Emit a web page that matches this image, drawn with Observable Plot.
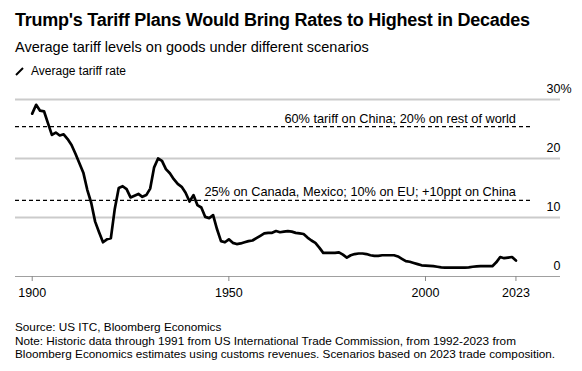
<!DOCTYPE html>
<html>
<head>
<meta charset="utf-8">
<script src="https://cdn.jsdelivr.net/npm/d3@7"></script>
<script src="https://cdn.jsdelivr.net/npm/@observablehq/plot@0.6"></script>
<style>
  html, body { margin: 0; padding: 0; background: #fff; }
  body { width: 582px; height: 371px; position: relative; font-family: "Liberation Sans", Arial, sans-serif; color: #000; overflow: hidden; }
  .abs { position: absolute; left: 15px; white-space: nowrap; }
  #title { top: 9px; font-size: 18px; font-weight: bold; letter-spacing: -0.25px; line-height: 22px; }
  #subtitle { top: 38px; font-size: 14.5px; line-height: 18px; }
  #legend { top: 63px; font-size: 12px; line-height: 16px; display: flex; align-items: center; }
  #legend svg { margin-right: 7px; }
  #chart { position: absolute; left: 0; top: 78px; }
  #footer { top: 320px; font-size: 11.75px; line-height: 13.5px; }
</style>
</head>
<body>
<div id="title" class="abs">Trump's Tariff Plans Would Bring Rates to Highest in Decades</div>
<div id="subtitle" class="abs">Average tariff levels on goods under different scenarios</div>
<div id="legend" class="abs"><svg width="9" height="9"><line x1="1" y1="8" x2="8" y2="1" stroke="#000" stroke-width="2"/></svg>Average tariff rate</div>
<div id="chart"></div>
<div id="footer" class="abs">Source: US ITC, Bloomberg Economics<br>Note: Historic data through 1991 from US International Trade Commission, from 1992-2023 from<br>Bloomberg Economics estimates using customs revenues. Scenarios based on 2023 trade composition.</div>
<script>
const years = [1900,1901,1902,1903,1904,1905,1906,1907,1908,1909,1910,1911,1912,1913,1914,1915,1916,1917,1918,1919,
1920,1921,1922,1923,1924,1925,1926,1927,1928,1929,1930,1931,1932,1933,1934,1935,1936,1937,1938,1939,
1940,1941,1942,1943,1944,1945,1946,1947,1948,1949,1950,1951,1952,1953,1954,1955,1956,1957,1958,1959,
1960,1961,1962,1963,1964,1965,1966,1967,1968,1969,1970,1971,1972,1973,1974,1975,1976,1977,1978,1979,
1980,1981,1982,1983,1984,1985,1986,1987,1988,1989,1990,1991,1992,1993,1994,1995,1996,1997,1998,1999,
2000,2001,2002,2003,2004,2005,2006,2007,2008,2009,2010,2011,2012,2013,2014,2015,2016,2017,2018,2019,
2020,2021,2022,2023];
const tariffRate = [27.6,29.1,28.1,28.0,26.0,24.0,24.4,23.9,24.1,23.3,22.3,20.8,19.2,17.6,14.7,12.5,9.3,7.5,5.8,6.3,
6.5,11.5,15.0,15.3,14.8,13.4,13.7,14.0,13.5,13.8,14.9,18.5,20.0,19.6,18.2,17.5,16.5,15.7,15.2,14.2,
12.7,13.8,12.1,11.7,10.1,9.9,10.4,8.0,6.0,5.8,6.3,5.7,5.5,5.6,5.8,6.0,6.1,6.5,6.9,7.3,
7.4,7.4,7.7,7.5,7.6,7.7,7.6,7.4,7.3,7.2,6.6,6.1,5.7,4.9,4.0,4.0,4.0,4.0,4.1,3.7,
3.2,3.6,3.8,3.9,3.9,3.8,3.6,3.5,3.5,3.6,3.6,3.6,3.6,3.4,3.0,2.6,2.5,2.3,2.1,1.9,
1.85,1.8,1.75,1.65,1.55,1.5,1.5,1.5,1.5,1.5,1.5,1.55,1.65,1.7,1.75,1.75,1.75,1.75,2.4,3.3,
3.1,3.2,3.3,2.7];
const scenarioLabels = ["60% tariff on China; 20% on rest of world", "25% on Canada, Mexico; 10% on EU; +10ppt on China"];
const scenarioValues = [25.4, 12.9];
const yTicks = [0, 10, 20, 30];
const xTicks = [1900, 1950, 2000, 2023];

const series = years.map((y, i) => ({year: y, value: tariffRate[i]}));
const scenarios = scenarioLabels.map((l, i) => ({label: l, value: scenarioValues[i]}));
const lastYear = years[years.length - 1];
const gridData = yTicks.filter(d => d > 0).map(v => ({value: v}));

const chart = Plot.plot({
  width: 582,
  height: 232,
  marginLeft: 15,
  marginRight: 22,
  marginTop: 21,
  marginBottom: 34,
  style: {fontFamily: "'Liberation Sans', Arial, sans-serif", fontSize: "12.5px", color: "#000", background: "#fff", overflow: "visible"},
  x: {domain: [1895.75, 2034.33]},
  y: {domain: [0, 30], axis: null},
  marks: [
    Plot.ruleY(gridData, {y: "value", stroke: "#cbcbcb", strokeOpacity: 1, strokeWidth: 2}),
    Plot.ruleY([0], {stroke: "#a0a0a0", strokeWidth: 1.2}),
    Plot.axisX({ticks: xTicks, tickFormat: d => String(d), tickSize: 5, tickPadding: 7, stroke: "#888", fill: "#000", fontSize: 12.5, label: null}),
    Plot.text(yTicks, {y: d => d, text: d => String(d), frameAnchor: "right", textAnchor: "end", dy: -11, fontSize: 12.5, fill: "#000"}),
    Plot.text([30], {y: d => d, text: () => "%", frameAnchor: "right", textAnchor: "start", dy: -11, fontSize: 12.5, fill: "#000"}),
    Plot.ruleY(scenarios, {y: "value", stroke: "#000", strokeWidth: 1.2, strokeDasharray: "4,3", insetRight: 29}),
    Plot.text(scenarios, {y: "value", x: () => lastYear, text: "label", textAnchor: "end", dy: -8, fontSize: 12.75, fill: "#000"}),
    Plot.line(series, {x: "year", y: "value", stroke: "#000", strokeWidth: 2.7, strokeLinejoin: "round", strokeLinecap: "round"})
  ]
});
document.getElementById("chart").appendChild(chart);
</script>
</body>
</html>
